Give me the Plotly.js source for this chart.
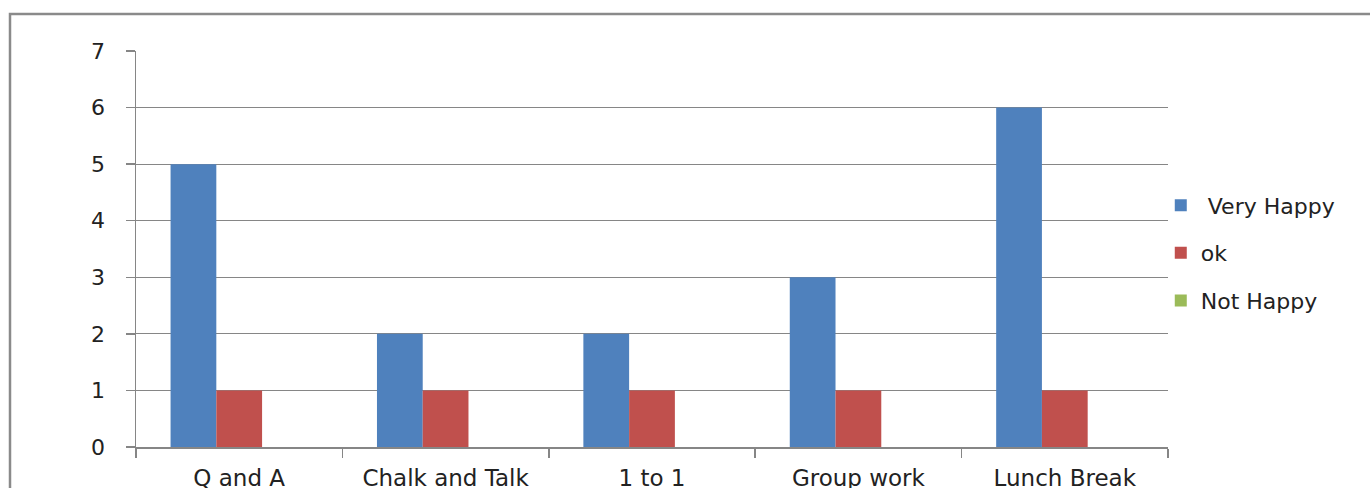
<!DOCTYPE html>
<html>
<head>
<meta charset="utf-8">
<script src="https://cdn.plot.ly/plotly-3.0.1.min.js"></script>
<style>html,body{margin:0;padding:0;background:#fff;}#chart{width:1370px;height:488px;}</style>
</head>
<body>
<div id="chart"></div>
<script>
const categories = ["Q and A", "Chalk and Talk", "1 to 1", "Group work", "Lunch Break"];
const veryHappy = [5, 2, 2, 3, 6];
const ok = [1, 1, 1, 1, 1];
const notHappy = [0, 0, 0, 0, 0];
const seriesNames = ["Very Happy", "ok", "Not Happy"];
const yTicks = [0, 1, 2, 3, 4, 5, 6, 7];

const colors = ["#4F81BD", "#C0504D", "#9BBB59"];
const seriesValues = [veryHappy, ok, notHappy];

const traces = seriesValues.map((vals, i) => ({
  type: "bar",
  x: categories,
  y: vals,
  name: (i === 0 ? " " : "") + seriesNames[i],
  legendgroup: "g" + i,
  marker: {color: colors[i], line: {width: 0}},
  hoverinfo: "x+y+name"
}));

const font = {family: "DejaVu Sans, Verdana, sans-serif", size: 22, color: "#222"};

const layout = {
  width: 1370,
  height: 488,
  margin: {l: 136, r: 202, t: 51, b: 41, pad: 0},
  paper_bgcolor: "#ffffff",
  plot_bgcolor: "#ffffff",
  font: font,
  barmode: "group",
  bargap: 0.335,
  bargroupgap: 0,
  showlegend: true,
  legend: {
    x: 0.993, xanchor: "left", y: 0.49, yanchor: "middle",
    font: font, tracegroupgap: 16, bgcolor: "rgba(0,0,0,0)"
  },
  xaxis: {
    type: "category",
    tickson: "boundaries",
    ticks: "outside",
    ticklen: 9,
    tickcolor: "#868686",
    tickwidth: 1.5,
    showline: true,
    linecolor: "#868686",
    linewidth: 1.5,
    showgrid: false,
    ticklabelstandoff: 10,
    tickfont: {family: font.family, size: 23, color: "#222"}
  },
  yaxis: {
    range: [0, 7],
    tickvals: yTicks,
    ticktext: yTicks.map(String),
    ticks: "outside",
    ticklen: 9,
    tickcolor: "#868686",
    tickwidth: 1.5,
    showline: true,
    linecolor: "#868686",
    linewidth: 1.5,
    showgrid: true,
    gridcolor: "#868686",
    gridwidth: 1,
    zeroline: false,
    ticklabelstandoff: 16,
    tickfont: font
  },
  shapes: [{
    type: "rect", xref: "paper", yref: "paper",
    x0: (10 - 136) / 1032, x1: (1390 - 136) / 1032,
    y0: (447 - 520) / 396, y1: (447 - 14) / 396,
    line: {color: "#8a8a8a", width: 2.5},
    fillcolor: "rgba(0,0,0,0)",
    layer: "below"
  }]
};

Plotly.newPlot("chart", traces, layout, {displayModeBar: false, staticPlot: true});
</script>
</body>
</html>
